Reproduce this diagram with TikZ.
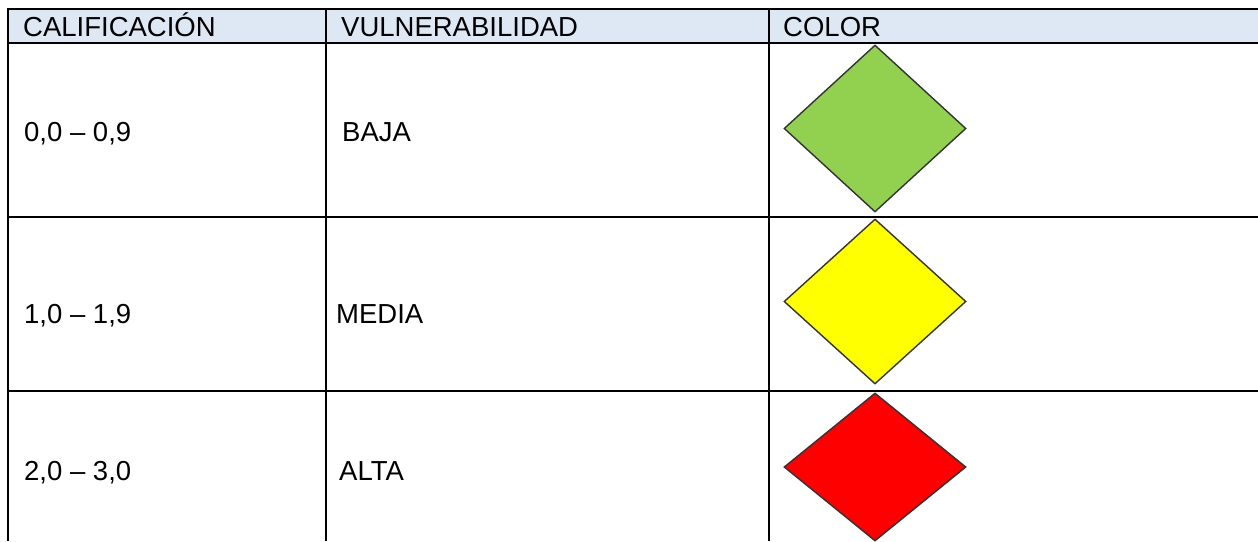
\documentclass[tikz,border=0pt]{standalone}
\usepackage{fontspec}
\setmainfont{Liberation Sans}
\usetikzlibrary{shapes.geometric}
\definecolor{headblue}{HTML}{DDE8F4}
\definecolor{lowgreen}{HTML}{92D050}
\definecolor{midyellow}{HTML}{FFFF00}
\definecolor{highred}{HTML}{FF0000}
\tikzset{
x=1pt,y=-1pt,
rule/.style={line width=2pt,black},
cell/.style={anchor=base west,inner sep=0pt,font=\fontsize{27.5}{30}\selectfont},
gem/.style={diamond,draw=black!80,line width=1.4pt,inner sep=0pt,minimum width=182pt}
}
\begin{document}
\begin{tikzpicture}
\useasboundingbox (0,0) rectangle (1258,541);
% header band
\fill[headblue] (8,9) rectangle (1258,43);
\draw[rule] (8,9) -- (1258,9);
\draw[rule] (8,43) -- (1258,43);
\draw[rule] (8,217) -- (1258,217);
\draw[rule] (8,391) -- (1258,391);
\draw[rule] (8,8) -- (8,541);
\draw[rule] (326,8) -- (326,541);
\draw[rule] (769,8) -- (769,541);

\node[cell] (hcal) at (23,36) {CALIFICACIÓN};
\node[cell] (hvul) at (341,36) {VULNERABILIDAD};
\node[cell] (hcol) at (783,36) {COLOR};

\node[cell] (r1) at (24,141) {0,0 – 0,9};
\node[cell] (v1) at (342,141) {BAJA};
\node[cell] (r2) at (24,323) {1,0 – 1,9};
\node[cell] (v2) at (336,323) {MEDIA};
\node[cell] (r3) at (24,480) {2,0 – 3,0};
\node[cell] (v3) at (339,480) {ALTA};

\node[gem,fill=lowgreen,minimum height=167pt] (baja) at (875,128.5) {};
\node[gem,fill=midyellow,minimum height=165pt] (media) at (875,301.5) {};
\node[gem,fill=highred,minimum height=148pt] (alta) at (875,467) {};
\end{tikzpicture}
\end{document}
